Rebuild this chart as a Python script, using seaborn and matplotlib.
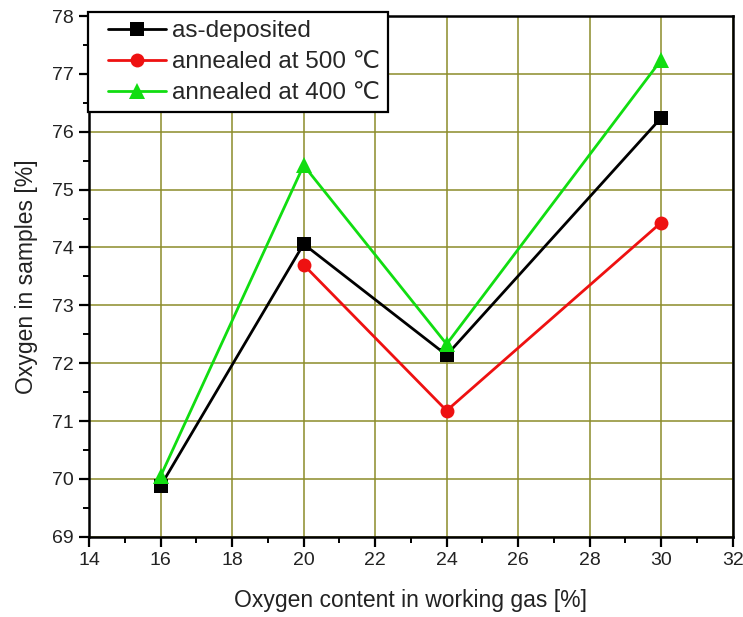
import matplotlib
matplotlib.use("Agg")
import matplotlib.pyplot as plt
from matplotlib.ticker import MultipleLocator
from matplotlib.lines import Line2D
from matplotlib.legend_handler import HandlerLine2D
import numpy as np
import pandas as pd
import seaborn as sns

# Oxygen content in working gas [%]
gas_oxygen = [16, 20, 24, 30]

# Oxygen measured in the samples [%]
as_deposited = [69.88, 74.06, 72.14, 76.24]
annealed_500 = [np.nan, 73.70, 71.18, 74.43]
annealed_400 = [70.05, 75.42, 72.33, 77.24]

series_names = ["as-deposited", "annealed at 500 \u2103", "annealed at 400 \u2103"]
series_values = [as_deposited, annealed_500, annealed_400]
series_colors = ["#000000", "#ee1111", "#11dd11"]
series_markers = ["s", "o", "^"]

x_ticks = list(range(14, 33, 2))
y_ticks = list(range(69, 79))

sns.set_theme(style="white")
plt.rcParams["font.family"] = ["Liberation Sans", "DejaVu Sans"]

fig = plt.figure(figsize=(7.43, 6.17), dpi=100)
ax = fig.add_axes([0.12, 0.13, 0.866, 0.844])

for name, vals, col, mk in zip(series_names, series_values, series_colors, series_markers):
    df = pd.DataFrame({"x": gas_oxygen, "y": vals}).dropna()
    sns.lineplot(data=df, x="x", y="y", ax=ax, color=col, marker=mk,
                 markersize=10 if mk != "^" else 11, markeredgewidth=0,
                 linewidth=2.0, label=name, zorder=3)

ax.set_xlim(14, 32)
ax.set_ylim(69, 78)
ax.set_xticks(x_ticks)
ax.set_yticks(y_ticks)
ax.xaxis.set_minor_locator(MultipleLocator(1))
ax.yaxis.set_minor_locator(MultipleLocator(0.5))
ax.tick_params(which="major", direction="out", length=7, width=1.6,
               colors="black", labelsize=14, labelcolor="#222222",
               bottom=True, left=True, pad=4)
ax.tick_params(which="minor", direction="out", length=4, width=1.4,
               colors="black", bottom=True, left=True)

ax.grid(True, which="major", color="#8c8c2a", linewidth=1.1)
ax.set_axisbelow(True)
for side in ["left", "bottom", "right", "top"]:
    ax.spines[side].set_color("black")
    ax.spines[side].set_linewidth(1.8)

ax.set_xlabel("Oxygen content in working gas [%]", fontsize=16.5, color="#222222", labelpad=14)
ax.set_ylabel("Oxygen in samples [%]", fontsize=16.5, color="#222222", labelpad=10)

handles, labels = ax.get_legend_handles_labels()
leg = ax.legend(handles, labels, loc="upper left", bbox_to_anchor=(-0.002, 1.008),
                fontsize=17.5, frameon=True, fancybox=False, borderaxespad=0,
                handlelength=2.88, handletextpad=0.25, labelspacing=0.37,
                borderpad=0.34, framealpha=1,
                handler_map={Line2D: HandlerLine2D(xpad=0.48)})
leg.get_frame().set_edgecolor("black")
leg.get_frame().set_linewidth(1.6)
leg.set_zorder(5)

fig.savefig("out.png", dpi=100)
